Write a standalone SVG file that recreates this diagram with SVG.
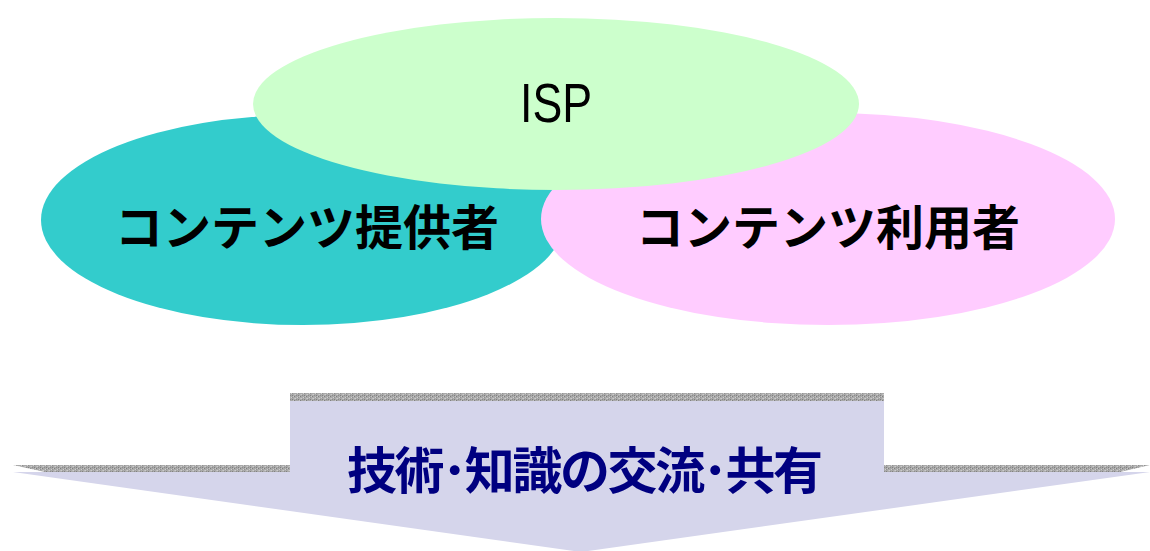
<svg xmlns="http://www.w3.org/2000/svg" width="1150" height="551" viewBox="0 0 1150 551">
  <style>
    .lbl { font-family: "Noto Sans CJK JP", "Liberation Sans", sans-serif; font-weight: bold; fill: #000000; }
    .isp { font-family: "Liberation Sans", "Noto Sans", sans-serif; fill: #000000; }
    .arrowtxt { font-family: "Noto Sans CJK JP", "Liberation Sans", sans-serif; font-weight: bold; fill: #000080; }
  </style>
  <defs>
    <pattern id="grain" width="6" height="4" patternUnits="userSpaceOnUse">
      <rect width="6" height="4" fill="#a9a9a9"/>
      <rect x="0" y="0" width="1" height="1" fill="#7f7f7f"/>
      <rect x="3" y="1" width="1" height="1" fill="#cfcfcf"/>
      <rect x="1" y="2" width="1" height="1" fill="#cccccc"/>
      <rect x="4" y="3" width="1" height="1" fill="#808080"/>
      <rect x="5" y="0" width="1" height="1" fill="#c4c4c4"/>
      <rect x="2" y="3" width="1" height="1" fill="#8c8c8c"/>
      <rect x="4" y="1" width="1" height="1" fill="#909090"/>
      <rect x="0" y="2" width="1" height="1" fill="#bdbdbd"/>
    </pattern>
  </defs>

  <g id="provider">
    <ellipse cx="303" cy="220" rx="262" ry="105" fill="#33CCCC"/>
  </g>
  <g id="user">
    <ellipse cx="828" cy="219" rx="287" ry="106" fill="#FFCCFF"/>
  </g>
  <g id="isp">
    <ellipse cx="556" cy="104" rx="303" ry="86" fill="#CCFFCC"/>
    <text class="isp" x="556" y="122" font-size="55" text-anchor="middle" textLength="72" lengthAdjust="spacingAndGlyphs">ISP</text>
  </g>
  <g id="provider-label">
    <text class="lbl" x="307" y="245" font-size="48" text-anchor="middle">コンテンツ提供者</text>
  </g>
  <g id="user-label">
    <text class="lbl" x="828" y="245" font-size="48" text-anchor="middle">コンテンツ利用者</text>
  </g>

  <g id="arrow">
    <polygon points="290,401 884,401 884,472 1150,472 581,552 13,472 290,472" fill="#D5D5EB"/>
    <rect x="290" y="393" width="594" height="8" fill="url(#grain)"/>
    <polygon points="13,465 290,465 290,472 45,472" fill="url(#grain)"/>
    <polygon points="884,465 1150,465 1120,472 884,472" fill="url(#grain)"/>
    <text class="arrowtxt" x="585" y="489" font-size="50" text-anchor="middle" textLength="476" lengthAdjust="spacing">技術･知識の交流･共有</text>
  </g>

  <g id="connectors"/>
</svg>
